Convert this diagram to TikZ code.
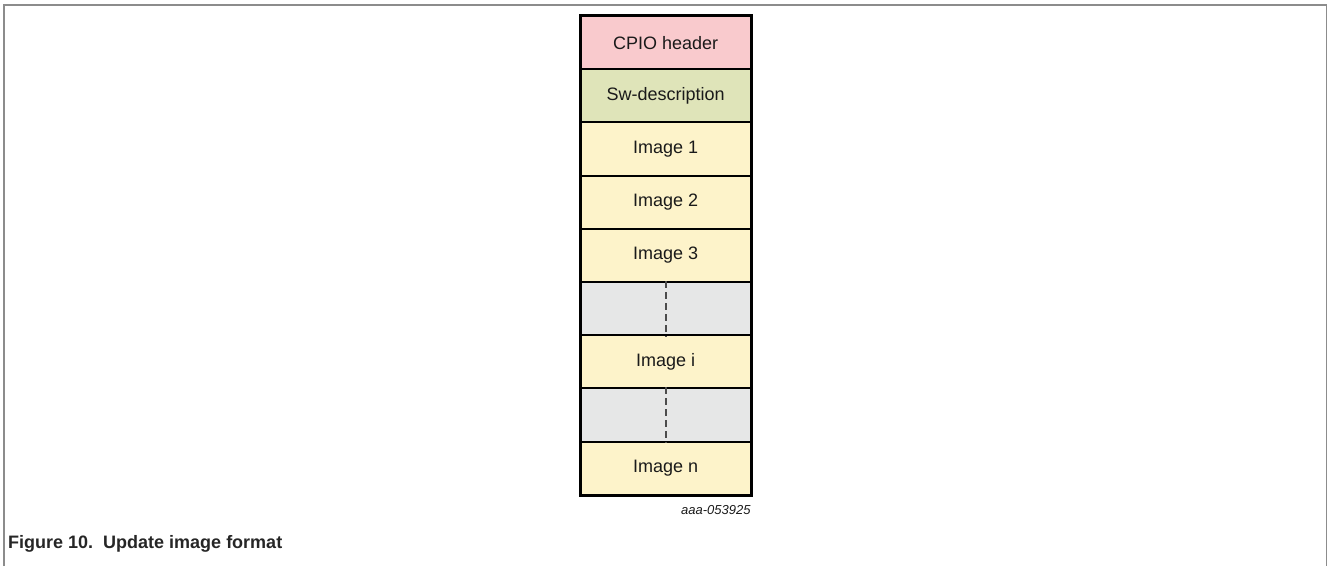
\documentclass[tikz,border=0pt]{standalone}
\usepackage{fontspec}
\setmainfont{Liberation Sans}
\definecolor{hdrpink}{HTML}{F9CACD}
\definecolor{swgreen}{HTML}{DFE4B9}
\definecolor{imgyellow}{HTML}{FDF3CA}
\definecolor{gapgray}{HTML}{E6E7E7}
\definecolor{inktext}{HTML}{1A1A1A}
\definecolor{framegray}{HTML}{8C8C8C}
\begin{document}
\begin{tikzpicture}[x=1pt,y=-1pt,
  row/.style={draw=black, line width=2pt, minimum width=170pt, minimum height=53.2pt,
    inner sep=0pt, anchor=north, text=inktext, font=\fontsize{18}{21}\selectfont},
  dashline/.style={draw=black!70, line width=1.8pt, dash pattern=on 7pt off 4pt},
  frameline/.style={draw=framegray, line width=1.2pt}]
\useasboundingbox (0,0) rectangle (1328,566);
% outer figure frame (open at the bottom)
\draw[frameline] (4,566) -- (4,5) -- (1326.5,5) -- (1326.5,566);
% the stacked layout of the update image
\node[row, fill=hdrpink]   (r1) at (665.7,15)       {CPIO header};
\node[row, fill=swgreen]   (r2) at (665.7,68.2)     {Sw-description};
\node[row, fill=imgyellow] (r3) at (665.7,121.4)    {Image 1};
\node[row, fill=imgyellow] (r4) at (665.7,174.6)    {Image 2};
\node[row, fill=imgyellow] (r5) at (665.7,227.8)    {Image 3};
\node[row, fill=gapgray]   (r6) at (665.7,281.0)    {};
\node[row, fill=imgyellow] (r7) at (665.7,334.2)    {Image i};
\node[row, fill=gapgray]   (r8) at (665.7,387.4)    {};
\node[row, fill=imgyellow] (r9) at (665.7,440.6)    {Image n};
\draw[dashline] (r6.north) -- (r6.south);
\draw[dashline] (r8.north) -- (r8.south);
% redraw the outline on top so the borders are uniform
\draw[line width=2pt] (r1.north west) rectangle (r9.south east);
% drawing code
\node[anchor=base east, inner sep=0pt, text=inktext, font=\itshape\fontsize{13}{15}\selectfont]
  (code) at (750.7,514) {aaa-053925};
% caption
\node[anchor=base west, inner sep=0pt, text=black!85, font=\bfseries\fontsize{18}{21}\selectfont]
  (cap) at (8,548) {Figure 10.\ \ Update image format};
\end{tikzpicture}
\end{document}
